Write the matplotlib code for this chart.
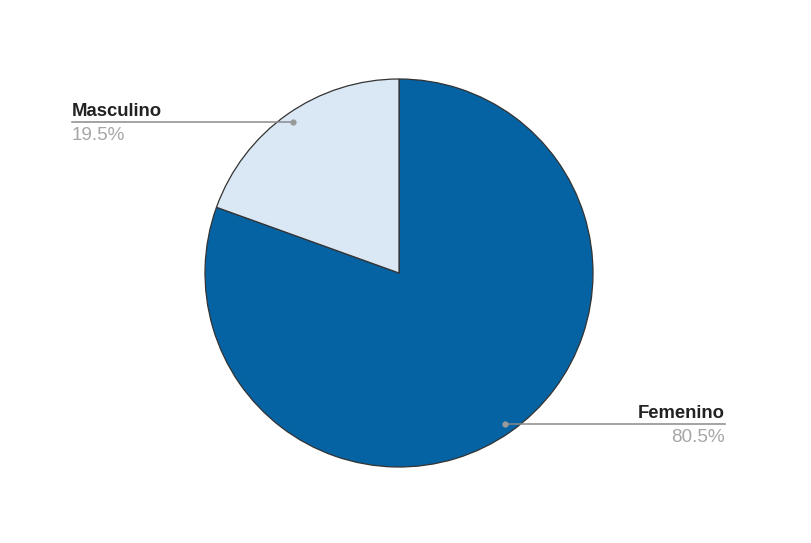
import numpy as np
import matplotlib
matplotlib.use("Agg")
import matplotlib.pyplot as plt

plt.rcParams['font.family'] = ['Liberation Sans', 'DejaVu Sans']

categories = ["Femenino", "Masculino"]
values = [80.5, 19.5]
pct_labels = ["80.5%", "19.5%"]
colors = ["#0563a3", "#dae8f5"]

W, H = 812, 543
fig = plt.figure(figsize=(W / 100, H / 100), dpi=100)
ax = fig.add_axes([0, 0, 1, 1])

cx, cy, r = 399, H - 273, 194
wedges, _ = ax.pie(values, colors=colors, startangle=90, counterclock=False,
                   center=(cx, cy), radius=r,
                   wedgeprops=dict(edgecolor="#333333", linewidth=0.9))
ax.set_xlim(0, W)
ax.set_ylim(0, H)
ax.set_aspect('equal')
ax.axis('off')

label_x = {"Femenino": 725, "Masculino": 72}
for w, cat, pct in zip(wedges, categories, pct_labels):
    mid = np.deg2rad((w.theta1 + w.theta2) / 2)
    dx, dy = cx + 0.95 * r * np.cos(mid), cy + 0.95 * r * np.sin(mid)
    lx = label_x[cat]
    ax.plot([dx, lx], [dy, dy], color="#8a8a8a", lw=1.1, zorder=5)
    ax.plot([dx], [dy], 'o', color="#9a9a9a", ms=3.5, zorder=6)
    ha = 'left' if lx < dx else 'right'
    ax.text(lx, dy + 6, cat, ha=ha, va='baseline', fontsize=13.3,
            fontweight='bold', color="#222222")
    ax.text(lx, dy - 5, pct, ha=ha, va='top', fontsize=13.6, color="#a6a6a6")

fig.savefig("out.png", dpi=100, facecolor="white")
